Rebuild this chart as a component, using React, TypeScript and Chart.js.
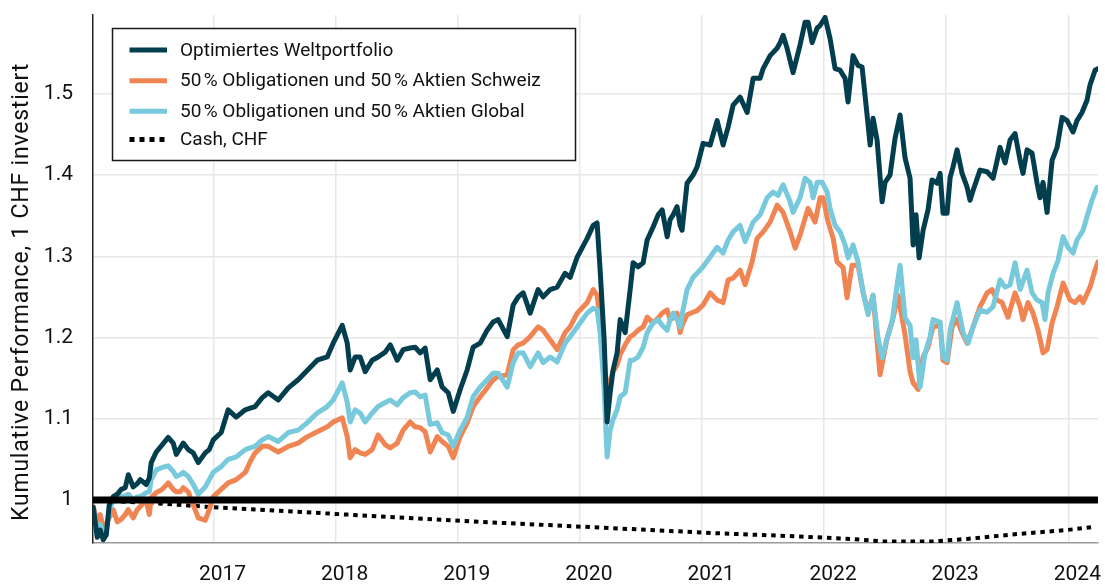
import { useEffect, useRef } from "react";
import { Chart, registerables } from "chart.js";

Chart.register(...registerables);

// ---------- labels ----------
const seriesNames = [
  "Optimiertes Weltportfolio",
  "50\u202F% Obligationen und 50\u202F% Aktien Schweiz",
  "50\u202F% Obligationen und 50\u202F% Aktien Global",
  "Cash, CHF",
];
const yAxisTitle = "Kumulative Performance, 1 CHF investiert";
const yearTicks = [2017, 2018, 2019, 2020, 2021, 2022, 2023, 2024];
const yearLabels = ["2017", "2018", "2019", "2020", "2021", "2022", "2023", "2024"];
const valueTicks = [1.0, 1.1, 1.2, 1.3, 1.4, 1.5];
const valueLabels = ["1", "1.1", "1.2", "1.3", "1.4", "1.5"];
const xMin = 2016.013;
const xMax = 2024.243;
const yMin = 0.947;
const yMax = 1.597;
const baselineValue = 1.0;

// ---------- data (decimal years) ----------
const earlyDates = [
  2016.015, 2016.048, 2016.072, 2016.097, 2016.122, 2016.146, 2016.179, 2016.212, 2016.244, 2016.277,
  2016.302, 2016.343, 2016.375, 2016.4, 2016.449, 2016.474, 2016.49, 2016.531, 2016.58, 2016.629,
  2016.67, 2016.695, 2016.727, 2016.752, 2016.793, 2016.834, 2016.875, 2016.932, 2016.965, 2016.998,
  2017.063, 2017.12, 2017.186, 2017.26, 2017.3, 2017.341, 2017.399, 2017.448, 2017.53, 2017.612,
  2017.693, 2017.759, 2017.849, 2017.931, 2017.98, 2018.054, 2018.095, 2018.119, 2018.16, 2018.201,
  2018.242, 2018.299, 2018.348, 2018.406, 2018.447, 2018.504, 2018.553, 2018.61, 2018.651, 2018.692,
  2018.733, 2018.774, 2018.832, 2018.872, 2018.922, 2018.963, 2019.02, 2019.077, 2019.126, 2019.184,
  2019.241, 2019.29, 2019.331, 2019.405, 2019.454, 2019.495, 2019.536, 2019.593, 2019.658, 2019.699,
  2019.757, 2019.814, 2019.879, 2019.92, 2019.978, 2020.06, 2020.109, 2020.141, 2020.166, 2020.199,
  2020.223, 2020.248, 2020.272, 2020.305, 2020.33, 2020.371, 2020.412, 2020.436, 2020.477, 2020.518,
  2020.551, 2020.6, 2020.641, 2020.674, 2020.715, 2020.739, 2020.764, 2020.796, 2020.821, 2020.837,
  2020.878, 2020.927, 2020.96, 2021.009, 2021.067, 2021.124, 2021.173, 2021.214,
];

const weltEarly = [
  0.991, 0.954, 0.963, 0.951, 0.957, 0.994, 1.004, 1.007, 1.013, 1.015,
  1.031, 1.016, 1.02, 1.025, 1.019, 1.027, 1.046, 1.059, 1.068, 1.077,
  1.07, 1.056, 1.064, 1.07, 1.062, 1.058, 1.046, 1.058, 1.062, 1.074,
  1.083, 1.111, 1.102, 1.111, 1.113, 1.115, 1.126, 1.132, 1.123, 1.138,
  1.148, 1.158, 1.172, 1.176, 1.193, 1.215, 1.193, 1.16, 1.176, 1.176,
  1.158, 1.172, 1.176, 1.182, 1.191, 1.172, 1.185, 1.187, 1.188, 1.181,
  1.187, 1.148, 1.16, 1.139, 1.132, 1.109, 1.136, 1.16, 1.188, 1.193,
  1.209, 1.219, 1.222, 1.201, 1.24, 1.25, 1.255, 1.23, 1.259, 1.25,
  1.259, 1.262, 1.279, 1.274, 1.299, 1.322, 1.338, 1.341, 1.283, 1.197,
  1.096, 1.132, 1.16, 1.181, 1.222, 1.206, 1.259, 1.292, 1.287, 1.292,
  1.32, 1.336, 1.351, 1.357, 1.324, 1.345, 1.351, 1.361, 1.338, 1.332,
  1.39, 1.4, 1.41, 1.439, 1.437, 1.467, 1.437, 1.459,
];
const schweizEarly = [
  0.992, 0.972, 0.982, 0.966, 0.97, 0.978, 0.988, 0.973, 0.976, 0.982,
  0.988, 0.978, 0.988, 0.992, 1.0, 0.982, 1.003, 1.009, 1.013, 1.021,
  1.013, 1.01, 1.01, 1.015, 1.01, 0.994, 0.978, 0.975, 0.988, 1.004,
  1.013, 1.021, 1.025, 1.034, 1.047, 1.058, 1.066, 1.066, 1.059, 1.066,
  1.07, 1.077, 1.084, 1.09, 1.096, 1.101, 1.078, 1.052, 1.062, 1.058,
  1.056, 1.062, 1.08, 1.068, 1.064, 1.07, 1.086, 1.096, 1.09, 1.089,
  1.084, 1.059, 1.078, 1.072, 1.066, 1.052, 1.078, 1.095, 1.115, 1.127,
  1.138, 1.148, 1.152, 1.154, 1.185, 1.191, 1.193, 1.201, 1.213, 1.209,
  1.197, 1.185, 1.206, 1.213, 1.23, 1.243, 1.259, 1.252, 1.222, 1.179,
  1.109, 1.148, 1.158, 1.166, 1.179, 1.191, 1.201, 1.203, 1.209, 1.213,
  1.225, 1.218, 1.224, 1.23, 1.234, 1.222, 1.224, 1.23, 1.206, 1.215,
  1.228, 1.231, 1.233, 1.24, 1.255, 1.246, 1.243, 1.271,
];
const globalEarly = [
  0.991, 0.957, 0.97, 0.954, 0.961, 0.988, 1.0, 1.004, 1.004, 1.005,
  1.007, 1.0, 1.004, 1.004, 1.009, 1.01, 1.025, 1.037, 1.04, 1.042,
  1.035, 1.029, 1.031, 1.034, 1.029, 1.019, 1.007, 1.016, 1.025, 1.034,
  1.041, 1.05, 1.053, 1.062, 1.064, 1.066, 1.074, 1.078, 1.072, 1.083,
  1.086, 1.094, 1.107, 1.115, 1.123, 1.144, 1.12, 1.096, 1.111, 1.107,
  1.096, 1.107, 1.115, 1.12, 1.123, 1.117, 1.126, 1.132, 1.133, 1.127,
  1.129, 1.093, 1.095, 1.083, 1.08, 1.066, 1.086, 1.102, 1.127, 1.139,
  1.148, 1.156, 1.156, 1.139, 1.169, 1.181, 1.181, 1.164, 1.181, 1.169,
  1.176, 1.17, 1.193, 1.201, 1.213, 1.23, 1.236, 1.234, 1.206, 1.136,
  1.053, 1.086, 1.099, 1.111, 1.127, 1.132, 1.172, 1.172, 1.176, 1.188,
  1.206, 1.218, 1.222, 1.215, 1.209, 1.222, 1.23, 1.222, 1.213, 1.228,
  1.259, 1.274, 1.279, 1.287, 1.299, 1.311, 1.304, 1.32,
];

const weltLateDates = [
  2021.255, 2021.312, 2021.37, 2021.419, 2021.476, 2021.501, 2021.558, 2021.615, 2021.64, 2021.664,
  2021.697, 2021.746, 2021.803, 2021.844, 2021.869, 2021.902, 2021.943, 2021.967, 2022.008, 2022.049,
  2022.09, 2022.131, 2022.172, 2022.196, 2022.237, 2022.278, 2022.311, 2022.352, 2022.377, 2022.401,
  2022.434, 2022.475, 2022.499, 2022.54, 2022.581, 2022.622, 2022.663, 2022.704, 2022.729, 2022.753,
  2022.778, 2022.811, 2022.851, 2022.884, 2022.925, 2022.95, 2022.974, 2023.007, 2023.032, 2023.056,
  2023.089, 2023.13, 2023.171, 2023.195, 2023.22, 2023.277, 2023.335, 2023.384, 2023.441, 2023.482,
  2023.523, 2023.564, 2023.605, 2023.629, 2023.662, 2023.703, 2023.744, 2023.768, 2023.793, 2023.826,
  2023.867, 2023.908, 2023.949, 2023.99, 2024.039, 2024.071, 2024.112, 2024.153, 2024.178, 2024.219,
  2024.243,
];
const weltLate = [
  1.486, 1.496, 1.477, 1.519, 1.519, 1.531, 1.547, 1.556, 1.563, 1.572,
  1.556, 1.526, 1.56, 1.588, 1.588, 1.563, 1.581, 1.584, 1.594, 1.568,
  1.531, 1.529, 1.519, 1.49, 1.547, 1.535, 1.533, 1.474, 1.437, 1.47,
  1.443, 1.367, 1.391, 1.4, 1.445, 1.474, 1.421, 1.396, 1.314, 1.351,
  1.298, 1.332, 1.357, 1.394, 1.39, 1.402, 1.353, 1.353, 1.397, 1.41,
  1.431, 1.402, 1.385, 1.369, 1.381, 1.406, 1.404, 1.396, 1.434, 1.415,
  1.443, 1.451, 1.418, 1.402, 1.431, 1.427, 1.39, 1.372, 1.391, 1.354,
  1.418, 1.434, 1.471, 1.467, 1.453, 1.467, 1.477, 1.492, 1.511, 1.529,
  1.531,
];

const schweizLateDates = [
  2021.255, 2021.312, 2021.353, 2021.41, 2021.451, 2021.501, 2021.558, 2021.615, 2021.664, 2021.722,
  2021.763, 2021.803, 2021.869, 2021.926, 2021.967, 2021.992, 2022.033, 2022.074, 2022.106, 2022.156,
  2022.188, 2022.229, 2022.278, 2022.319, 2022.36, 2022.401, 2022.458, 2022.516, 2022.565, 2022.606,
  2022.663, 2022.704, 2022.729, 2022.77, 2022.811, 2022.851, 2022.892, 2022.95, 2022.974, 2023.007,
  2023.048, 2023.089, 2023.13, 2023.171, 2023.22, 2023.277, 2023.335, 2023.375, 2023.416, 2023.457,
  2023.506, 2023.564, 2023.605, 2023.629, 2023.67, 2023.711, 2023.752, 2023.793, 2023.826, 2023.867,
  2023.908, 2023.957, 2024.014, 2024.055, 2024.096, 2024.121, 2024.178, 2024.219, 2024.243,
];
const schweizLate = [
  1.273, 1.283, 1.265, 1.293, 1.322, 1.33, 1.342, 1.363, 1.354, 1.33,
  1.31, 1.326, 1.359, 1.342, 1.372, 1.372, 1.342, 1.322, 1.293, 1.286,
  1.249, 1.289, 1.289, 1.256, 1.231, 1.252, 1.154, 1.199, 1.224, 1.252,
  1.203, 1.158, 1.144, 1.136, 1.176, 1.188, 1.213, 1.215, 1.172, 1.169,
  1.213, 1.222, 1.206, 1.193, 1.213, 1.238, 1.255, 1.259, 1.246, 1.243,
  1.225, 1.255, 1.238, 1.222, 1.243, 1.23, 1.209, 1.181, 1.185, 1.218,
  1.238, 1.267, 1.246, 1.243, 1.25, 1.243, 1.262, 1.283, 1.293,
];

const globalLateDates = [
  2021.255, 2021.312, 2021.353, 2021.419, 2021.476, 2021.533, 2021.582, 2021.623, 2021.664, 2021.722,
  2021.746, 2021.803, 2021.844, 2021.885, 2021.91, 2021.943, 2021.984, 2022.025, 2022.049, 2022.09,
  2022.131, 2022.172, 2022.196, 2022.237, 2022.278, 2022.319, 2022.36, 2022.401, 2022.442, 2022.475,
  2022.516, 2022.557, 2022.598, 2022.622, 2022.663, 2022.704, 2022.729, 2022.753, 2022.786, 2022.827,
  2022.868, 2022.892, 2022.95, 2022.974, 2023.007, 2023.032, 2023.089, 2023.138, 2023.179, 2023.22,
  2023.277, 2023.335, 2023.384, 2023.441, 2023.482, 2023.523, 2023.564, 2023.605, 2023.662, 2023.703,
  2023.744, 2023.785, 2023.809, 2023.834, 2023.875, 2023.916, 2023.957, 2023.998, 2024.039, 2024.071,
  2024.121, 2024.161, 2024.194, 2024.235,
];
const globalLate = [
  1.33, 1.338, 1.318, 1.342, 1.351, 1.372, 1.379, 1.375, 1.388, 1.367,
  1.354, 1.372, 1.396, 1.391, 1.372, 1.391, 1.391, 1.379, 1.359, 1.338,
  1.33, 1.314, 1.298, 1.314, 1.293, 1.256, 1.228, 1.252, 1.199, 1.175,
  1.199, 1.219, 1.265, 1.289, 1.224, 1.215, 1.175, 1.197, 1.139, 1.181,
  1.201, 1.222, 1.219, 1.176, 1.172, 1.209, 1.243, 1.206, 1.193, 1.213,
  1.234, 1.231, 1.238, 1.271, 1.262, 1.265, 1.292, 1.259, 1.283, 1.255,
  1.246, 1.243, 1.222, 1.255, 1.279, 1.295, 1.324, 1.311, 1.304, 1.32,
  1.332, 1.353, 1.369, 1.385,
];

const cashDates = [
  2016.015, 2016.523, 2016.998, 2018.095, 2019.184, 2020.027, 2021.124, 2021.803,
  2022.213, 2022.483, 2022.892, 2023.171, 2023.58, 2023.99, 2024.219,
];
const cashValues = [
  1.0, 0.996, 0.991, 0.982, 0.973, 0.967, 0.959, 0.955,
  0.952, 0.949, 0.949, 0.952, 0.958, 0.963, 0.967,
];

// ---------- styling ----------
const colors = ["#033e4f", "#f08553", "#78c9dc", "#000000"];
const FONT = "Roboto, 'Noto Sans', sans-serif";

function toPoints(xs: number[], ys: number[]) {
  const n = Math.min(xs.length, ys.length);
  const out: { x: number; y: number }[] = [];
  for (let i = 0; i < n; i++) out.push({ x: xs[i], y: ys[i] });
  return out;
}

const legendPlugin = {
  id: "boxLegend",
  afterDraw(chart: any) {
    const ctx = chart.ctx as CanvasRenderingContext2D;
    ctx.save();
    // y axis title
    ctx.save();
    ctx.translate(22, 292);
    ctx.rotate(-Math.PI / 2);
    ctx.font = `23px ${FONT}`;
    (ctx as any).letterSpacing = "0.8px";
    ctx.fillStyle = "#111111";
    ctx.textAlign = "center";
    ctx.textBaseline = "middle";
    ctx.fillText(yAxisTitle, 0, 0);
    (ctx as any).letterSpacing = "0px";
    ctx.restore();

    // legend box
    const bx = 112.5, by = 28.5, bw = 463, bh = 132;
    ctx.fillStyle = "#ffffff";
    ctx.fillRect(bx, by, bw, bh);
    ctx.strokeStyle = "#1a1a1a";
    ctx.lineWidth = 1.5;
    ctx.strokeRect(bx, by, bw, bh);
    const rows = [50, 80.7, 111.2, 139.5];
    ctx.font = `19px ${FONT}`;
    ctx.textBaseline = "middle";
    ctx.textAlign = "left";
    seriesNames.forEach((name, i) => {
      const y = rows[i];
      ctx.beginPath();
      ctx.strokeStyle = colors[i];
      ctx.setLineDash(i === 3 ? [5, 5] : []);
      ctx.lineWidth = 5;
      ctx.lineCap = "butt";
      ctx.moveTo(129.5, y);
      ctx.lineTo(167, y);
      ctx.stroke();
      ctx.setLineDash([]);
      ctx.fillStyle = "#111111";
      ctx.fillText(name, 180, y + 1);
    });
    ctx.restore();
  },
};

export default function App() {
  const canvasRef = useRef<HTMLCanvasElement | null>(null);

  useEffect(() => {
    if (!canvasRef.current) return;
    const lineCommon = {
      pointRadius: 0,
      pointHoverRadius: 0,
      tension: 0,
      borderJoinStyle: "round" as const,
      borderCapStyle: "round" as const,
      fill: false,
    };
    const chart = new Chart(canvasRef.current, {
      type: "line",
      data: {
        datasets: [
          {
            label: "baseline",
            data: [
              { x: xMin, y: baselineValue },
              { x: xMax, y: baselineValue },
            ],
            borderColor: "#000000",
            borderWidth: 7,
            pointRadius: 0,
            order: 0,
            borderCapStyle: "butt",
          },
          {
            label: seriesNames[0],
            data: toPoints([...earlyDates, ...weltLateDates], [...weltEarly, ...weltLate]),
            borderColor: colors[0],
            borderWidth: 5,
            order: 1,
            ...lineCommon,
          },
          {
            label: seriesNames[2],
            data: toPoints([...earlyDates, ...globalLateDates], [...globalEarly, ...globalLate]),
            borderColor: colors[2],
            borderWidth: 5,
            order: 2,
            ...lineCommon,
          },
          {
            label: seriesNames[1],
            data: toPoints([...earlyDates, ...schweizLateDates], [...schweizEarly, ...schweizLate]),
            borderColor: colors[1],
            borderWidth: 5,
            order: 3,
            ...lineCommon,
          },
          {
            label: seriesNames[3],
            data: toPoints(cashDates, cashValues),
            borderColor: "#000000",
            borderWidth: 4,
            borderDash: [4.5, 4.8],
            pointRadius: 0,
            tension: 0,
            order: 4,
            borderCapStyle: "butt",
          },
        ],
      },
      options: {
        animation: false,
        responsive: false,
        maintainAspectRatio: false,
        layout: { padding: { top: 15, right: 7, left: 0, bottom: 0 } },
        plugins: {
          legend: { display: false },
          tooltip: { enabled: false },
        },
        scales: {
          x: {
            type: "linear",
            min: xMin,
            max: xMax,
            afterBuildTicks: (scale: any) => {
              scale.ticks = yearTicks.map((v) => ({ value: v }));
            },
            afterFit: (scale: any) => {
              scale.height = 43;
              scale.paddingLeft = 0;
              scale.paddingRight = 0;
            },
            grid: {
              color: "#e8e8e8",
              lineWidth: 1.5,
              drawTicks: false,
            },
            border: { display: true, color: "#9a9a9a", width: 1.5 },
            ticks: {
              padding: 19,
              labelOffset: 9,
              maxRotation: 0,
              autoSkip: false,
              color: "#111111",
              font: { family: FONT, size: 21 },
              callback: (_v: any, i: number) => yearLabels[i],
            },
          },
          y: {
            type: "linear",
            min: yMin,
            max: yMax,
            afterBuildTicks: (scale: any) => {
              scale.ticks = valueTicks.map((v) => ({ value: v }));
            },
            afterFit: (scale: any) => {
              scale.width = 93;
              scale.paddingTop = 0;
              scale.paddingBottom = 0;
            },
            grid: {
              color: "#e8e8e8",
              lineWidth: 1.5,
              drawTicks: false,
            },
            border: { display: true, color: "#222222", width: 1.5 },
            ticks: {
              padding: 20,
              autoSkip: false,
              color: "#111111",
              font: { family: FONT, size: 21 },
              callback: (_v: any, i: number) => valueLabels[i],
            },
            title: { display: false },
          },
        },
      },
      plugins: [legendPlugin],
    } as any);
    return () => chart.destroy();
  }, []);

  return (
    <div style={{ position: "absolute", left: 0, top: 0, width: 1105, height: 586, background: "#fff" }}>
      <canvas ref={canvasRef} width={1105} height={586} style={{ display: "block", width: 1105, height: 586 }} />
    </div>
  );
}
